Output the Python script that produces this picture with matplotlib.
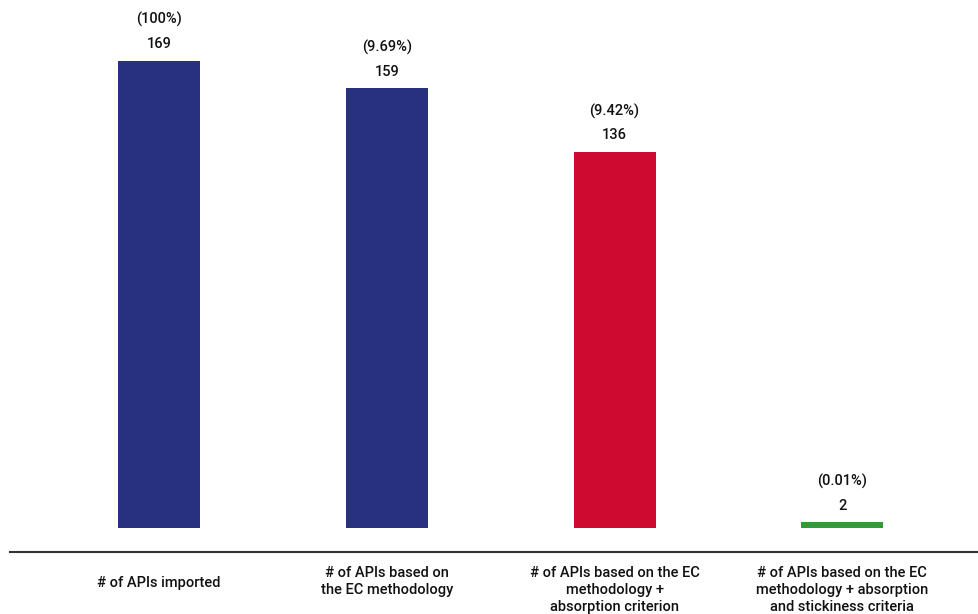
import matplotlib.pyplot as plt
import matplotlib.transforms as mtransforms
import numpy as np

plt.rcParams['font.family'] = ['Roboto', 'DejaVu Sans']
plt.rcParams['font.weight'] = 'medium'

categories = ["# of APIs imported",
              "# of APIs based on\nthe EC methodology",
              "# of APIs based on the EC\nmethodology +\nabsorption criterion",
              "# of APIs based on the EC\nmethodology + absorption\nand stickiness criteria"]
counts = [169, 159, 136, 2]
shares = ["(100%)", "(9.69%)", "(9.42%)", "(0.01%)"]
colors = ["#283080", "#283080", "#CE0A30", "#2E9E32"]

fig = plt.figure(figsize=(9.79, 6.14), dpi=100)
ax = fig.add_axes([10 / 979, 62 / 614, 969 / 979, 552 / 614])

x = np.arange(len(categories))
ax.bar(x, counts, width=0.36, color=colors)

for xi, c, s in zip(x, counts, shares):
    ax.annotate(str(c), (xi, c), xytext=(0, 12), textcoords='offset points',
                ha='center', va='center', fontsize=10.5, color='#111111')
    ax.annotate(s, (xi, c), xytext=(0, 29.5), textcoords='offset points',
                ha='center', va='center', fontsize=10.5, color='#111111')

ax.set_xlim(-0.654, 3.6)
ax.set_ylim(-8.68, 191.0)

ax.set_xticks(x)
ax.set_xticklabels(categories, fontsize=10.5, color='#111111', linespacing=1.3)
ax.tick_params(axis='x', length=0, pad=10)
# single-line label sits lower in the reference
lbl = ax.get_xticklabels()[0]
lbl.set_transform(lbl.get_transform() + mtransforms.ScaledTranslation(0, -7 / 72, fig.dpi_scale_trans))

ax.set_yticks([])
for side in ['top', 'right', 'left']:
    ax.spines[side].set_visible(False)
ax.spines['bottom'].set_color('#333333')
ax.spines['bottom'].set_linewidth(1.5)

fig.savefig("out.png", dpi=100)
